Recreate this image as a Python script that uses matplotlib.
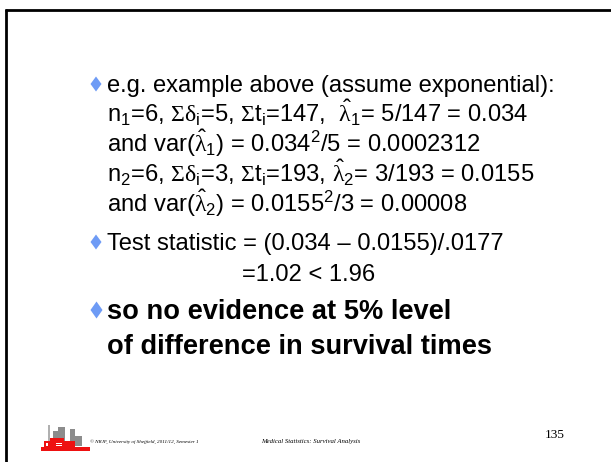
import matplotlib
matplotlib.use("Agg")
import matplotlib.pyplot as plt
from matplotlib.patches import Rectangle, Polygon

plt.rcParams['mathtext.fontset'] = 'custom'
plt.rcParams['mathtext.rm'] = 'Liberation Sans'
plt.rcParams['mathtext.it'] = 'Liberation Sans'
plt.rcParams['mathtext.bf'] = 'Liberation Sans:bold'
plt.rcParams['mathtext.sf'] = 'Liberation Serif'   # used for the Symbol-font Greek letters
plt.rcParams['mathtext.default'] = 'regular'

# slide content
bullet_lines = [
    (True,  r"e.g. example above (assume exponential):"),
    (False, r"n$_1$=6, $\mathsf{Σδ}_i$=5, $\mathsf{Σ}$t$_i$=147,  $\hat{\mathsf{λ}}_1$= 5/147 = 0.034"),
    (False, r"and var($\hat{\mathsf{λ}}_1$) = 0.034$^2$/5 = 0.0002312"),
    (False, r"n$_2$=6, $\mathsf{Σδ}_i$=3, $\mathsf{Σ}$t$_i$=193, $\hat{\mathsf{λ}}_2$= 3/193 = 0.0155"),
    (False, r"and var($\hat{\mathsf{λ}}_2$) = 0.0155$^2$/3 = 0.00008"),
    (True,  r"Test statistic = (0.034 – 0.0155)/.0177"),
]
indent_line = r"=1.02 < 1.96"
bold_lines = ["so no evidence at 5% level", "of difference in survival times"]
footer_left = "© NRJF, University of Sheffield, 2011/12, Semester 1"
footer_mid = "Medical Statistics: Survival Analysis"
page_no = "135"

W, H = 611, 462
fig = plt.figure(figsize=(W/100, H/100), dpi=100)
ax = fig.add_axes([0, 0, 1, 1])
ax.set_xlim(0, W)
ax.set_ylim(H, 0)
ax.axis('off')

# frame lines (top and left)
ax.plot([5, W], [9.5, 9.5], color='black', lw=2.0, solid_capstyle='butt')
ax.plot([6, 6], [8.5, H], color='black', lw=2.0, solid_capstyle='butt')

fig.canvas.draw()
renderer = fig.canvas.get_renderer()

def fit_size(s, target_px, family='Liberation Sans', weight='normal', style='normal'):
    t = ax.text(0, 0, s, fontsize=10, family=family, weight=weight, style=style)
    w = t.get_window_extent(renderer).width
    t.remove()
    return 10 * target_px / w

reg = 23.8 * 0.72          # 28pt slide text -> px -> pt at 100 dpi
bld = 27.2 * 0.72          # 32pt slide text

x_text = 107
bullet_color = '#6E9BF5'

def diamond(cx, cy, hw, hh):
    ax.add_patch(Polygon([(cx - hw, cy), (cx, cy - hh), (cx + hw, cy), (cx, cy + hh)],
                         closed=True, color=bullet_color, lw=0))

baselines = [92, 122, 152, 182, 212, 250]
for (has_bullet, s), yb in zip(bullet_lines, baselines):
    ax.text(x_text, yb, s, fontsize=reg, family='Liberation Sans', va='baseline', ha='left')
    if has_bullet:
        diamond(96, yb - 8, 5.5, 7.5)
ax.text(242, 281, indent_line, fontsize=reg, family='Liberation Sans', va='baseline', ha='left')

bold_baselines = [319, 354]
for i, (s, yb) in enumerate(zip(bold_lines, bold_baselines)):
    ax.text(x_text, yb, s, fontsize=bld, family='Liberation Sans', weight='bold',
            va='baseline', ha='left')
    if i == 0:
        diamond(96.5, yb - 9, 6.0, 8.5)

# footer logo (decorative)
gray = '#8c8c8c'
red = '#ee1111'
ax.add_patch(Rectangle((48, 425), 2, 17, color='#b0b0b0', lw=0))
ax.add_patch(Rectangle((53, 431), 6, 11, color=gray, lw=0))
ax.add_patch(Rectangle((58, 427), 7, 15, color=gray, lw=0))
ax.add_patch(Rectangle((70, 429), 5, 16, color=gray, lw=0))
ax.add_patch(Rectangle((74, 436), 8, 10, color=gray, lw=0))
ax.add_patch(Rectangle((41, 447), 49, 4, color=red, lw=0))
ax.add_patch(Rectangle((44, 441), 31, 6, color=red, lw=0))
ax.add_patch(Rectangle((50, 438), 14, 3, color=red, lw=0))
ax.add_patch(Rectangle((46, 443), 2, 3, color='white', lw=0))
ax.add_patch(Rectangle((56, 443), 6, 1, color='white', lw=0))
ax.add_patch(Rectangle((56, 445), 6, 1, color='white', lw=0))

fs_left = fit_size(footer_left, 108, 'Liberation Serif', style='italic')
fs_mid = fit_size(footer_mid, 99, 'Liberation Serif', style='italic')
fs_no = fit_size(page_no, 20, 'Liberation Serif')
ax.text(90, 442, footer_left, fontsize=fs_left, family='Liberation Serif', style='italic',
        va='center', ha='left')
ax.text(261, 442, footer_mid, fontsize=fs_mid, family='Liberation Serif', style='italic',
        va='center', ha='left')
ax.text(545, 435, page_no, fontsize=fs_no, family='Liberation Serif', va='center', ha='left')

fig.savefig('out.png', dpi=100)
